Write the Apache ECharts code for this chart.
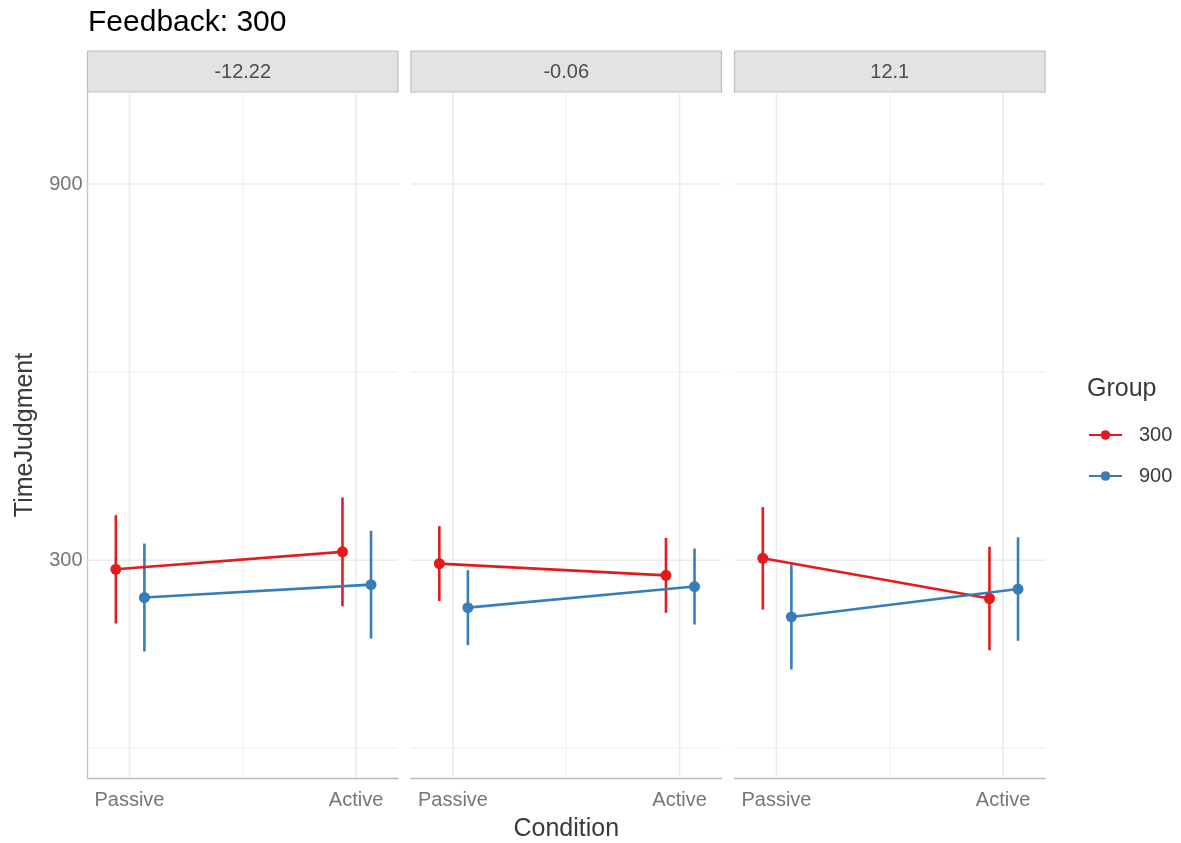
<!DOCTYPE html>
<html>
<head>
<meta charset="utf-8">
<script src="https://cdn.jsdelivr.net/npm/echarts@6/dist/echarts.min.js"></script>
<style>
  html, body { margin: 0; padding: 0; background: #fff; }
  #chart { width: 1181px; height: 843px; }
</style>
</head>
<body>
<div id="chart"></div>
<script>
// Facet labels, x categories and groups
const facets = ['-12.22', '-0.06', '12.1'];
const conditions = ['Passive', 'Active'];
const groups = ['300', '900'];

// Group means per facet, ordered [Passive, Active]
const mean300 = [[285.5, 313.3], [294.6, 275.8], [303.0, 238.9]];
const mean900 = [[240.5, 261.0], [224.3, 258.0], [209.5, 254.0]];
// Error-bar half widths per facet, ordered [Passive, Active]
const err300 = [[86.4, 86.7], [59.7, 59.8], [81.7, 82.5]];
const err900 = [[86.0, 86.0], [59.8, 60.6], [83.8, 82.5]];

// Axis breaks
const yMajor = [300, 900];
const yMinor = [0, 600];
const xMajor = [1, 2];
const xMinor = [1.5];

// ---- styling / layout ----
const colors = ['#E41A1C', '#377EB8'];
const dodge = [-0.06, 0.066];
const yRange = [-47.4, 1046.8];
const xRange = [0.815, 2.185];
const panelLeft = [87.5, 411, 734.5];
const panelWidth = 310.5;
const panelTop = 92;
const panelBottom = 778;
const W = 1181, H = 843;
const FONT = 'Liberation Sans, Arial, sans-serif';

const means = [mean300, mean900];
const errs = [err300, err900];

const grids = [], xAxes = [], yAxes = [], series = [], graphics = [];

facets.forEach((f, i) => {
  grids.push({
    left: panelLeft[i], width: panelWidth,
    top: panelTop, bottom: H - panelBottom,
    containLabel: false
  });
  xAxes.push({
    type: 'value', gridIndex: i, min: xRange[0], max: xRange[1],
    axisLine: { show: true, onZero: false, lineStyle: { color: '#BBBBBB', width: 1.3 } },
    axisTick: { show: false },
    splitLine: { show: false },
    axisLabel: {
      customValues: xMajor,
      formatter: v => conditions[Math.round(v) - 1] || '',
      color: '#767676', fontSize: 20, fontFamily: FONT, margin: 12
    }
  });
  yAxes.push({
    type: 'value', gridIndex: i, min: yRange[0], max: yRange[1],
    axisLine: { show: i === 0, onZero: false, lineStyle: { color: '#C4C4C4', width: 1.3 } },
    axisTick: { show: false },
    splitLine: { show: false },
    axisLabel: {
      show: i === 0,
      customValues: yMajor,
      color: '#767676', fontSize: 20, fontFamily: FONT, margin: 5
    }
  });

  // grid lines drawn through the axis scales
  const gridData = [];
  xMajor.forEach(v => gridData.push([v, 0, 0, 1]));
  xMinor.forEach(v => gridData.push([v, 0, 0, 0]));
  yMajor.forEach(v => gridData.push([1.5, v, 1, 1]));
  yMinor.forEach(v => gridData.push([1.5, v, 1, 0]));
  series.push({
    type: 'custom', name: 'grid' + i, xAxisIndex: i, yAxisIndex: i,
    z: 1, silent: true, data: gridData,
    encode: { x: 0, y: 1 },
    renderItem(params, api) {
      const cs = params.coordSys;
      const p = api.coord([api.value(0), api.value(1)]);
      const w = api.value(3) ? 1.6 : 0.9;
      const shape = api.value(2) === 0
        ? { x1: p[0], y1: cs.y, x2: p[0], y2: cs.y + cs.height }
        : { x1: cs.x, y1: p[1], x2: cs.x + cs.width, y2: p[1] };
      return { type: 'line', shape, style: { stroke: '#EBEBEB', lineWidth: w } };
    }
  });

  groups.forEach((g, gi) => {
    const m = means[gi][i], e = errs[gi][i];
    const barData = m.map((v, ci) => [ci + 1 + dodge[gi], v - e[ci], v + e[ci]]);
    series.push({
      type: 'custom', name: 'err' + g + '_' + i, xAxisIndex: i, yAxisIndex: i,
      z: 2, silent: true, data: barData,
      encode: { x: 0, y: [1, 2] },
      renderItem(params, api) {
        const a = api.coord([api.value(0), api.value(1)]);
        const b = api.coord([api.value(0), api.value(2)]);
        return {
          type: 'line',
          shape: { x1: a[0], y1: a[1], x2: b[0], y2: b[1] },
          style: { stroke: colors[gi], lineWidth: 2.6 }
        };
      }
    });
    series.push({
      type: 'line', name: g, xAxisIndex: i, yAxisIndex: i, z: 3,
      data: m.map((v, ci) => [ci + 1 + dodge[gi], v]),
      symbol: 'circle', symbolSize: 11, showSymbol: true,
      lineStyle: { color: colors[gi], width: 2.6 },
      itemStyle: { color: colors[gi] },
      emphasis: { disabled: true }
    });
  });

  // facet strip
  graphics.push({
    type: 'rect',
    shape: { x: panelLeft[i], y: 51, width: panelWidth, height: 41 },
    style: { fill: '#E3E3E3', stroke: '#BDBDBD', lineWidth: 1.2 }
  });
  graphics.push({
    type: 'text',
    x: panelLeft[i] + panelWidth / 2, y: 72,
    style: { text: f, fill: '#4D4D4D', font: '20px ' + FONT, textAlign: 'center', textVerticalAlign: 'middle' }
  });
});

// axis titles and legend title
graphics.push({
  type: 'text', x: panelLeft[1] + panelWidth / 2, y: 829,
  style: { text: 'Condition', fill: '#3A3A3A', font: '25px ' + FONT, textAlign: 'center', textVerticalAlign: 'middle' }
});
graphics.push({
  type: 'text', x: 25, y: (panelTop + panelBottom) / 2, rotation: Math.PI / 2,
  style: { text: 'TimeJudgment', fill: '#3A3A3A', font: '25px ' + FONT, textAlign: 'center', textVerticalAlign: 'middle' }
});
graphics.push({
  type: 'text', x: 1087, y: 389,
  style: { text: 'Group', fill: '#3A3A3A', font: '25px ' + FONT, textAlign: 'left', textVerticalAlign: 'middle' }
});

const chart = echarts.init(document.getElementById('chart'), null, { renderer: 'canvas' });
chart.setOption({
  animation: false,
  backgroundColor: '#ffffff',
  title: {
    text: 'Feedback: 300', left: 83, top: 3,
    textStyle: { fontSize: 30, fontWeight: 'normal', color: '#000', fontFamily: FONT }
  },
  legend: {
    data: groups.map(g => ({ name: g })),
    orient: 'vertical', left: 1083, top: 418,
    itemWidth: 33, itemHeight: 12, itemGap: 17,
    selectedMode: false,
    textStyle: { fontSize: 20, color: '#3A3A3A', fontFamily: FONT, padding: [0, 0, 0, 12], lineHeight: 24 }
  },
  grid: grids,
  xAxis: xAxes,
  yAxis: yAxes,
  series: series,
  graphic: graphics
});
</script>
</body>
</html>
